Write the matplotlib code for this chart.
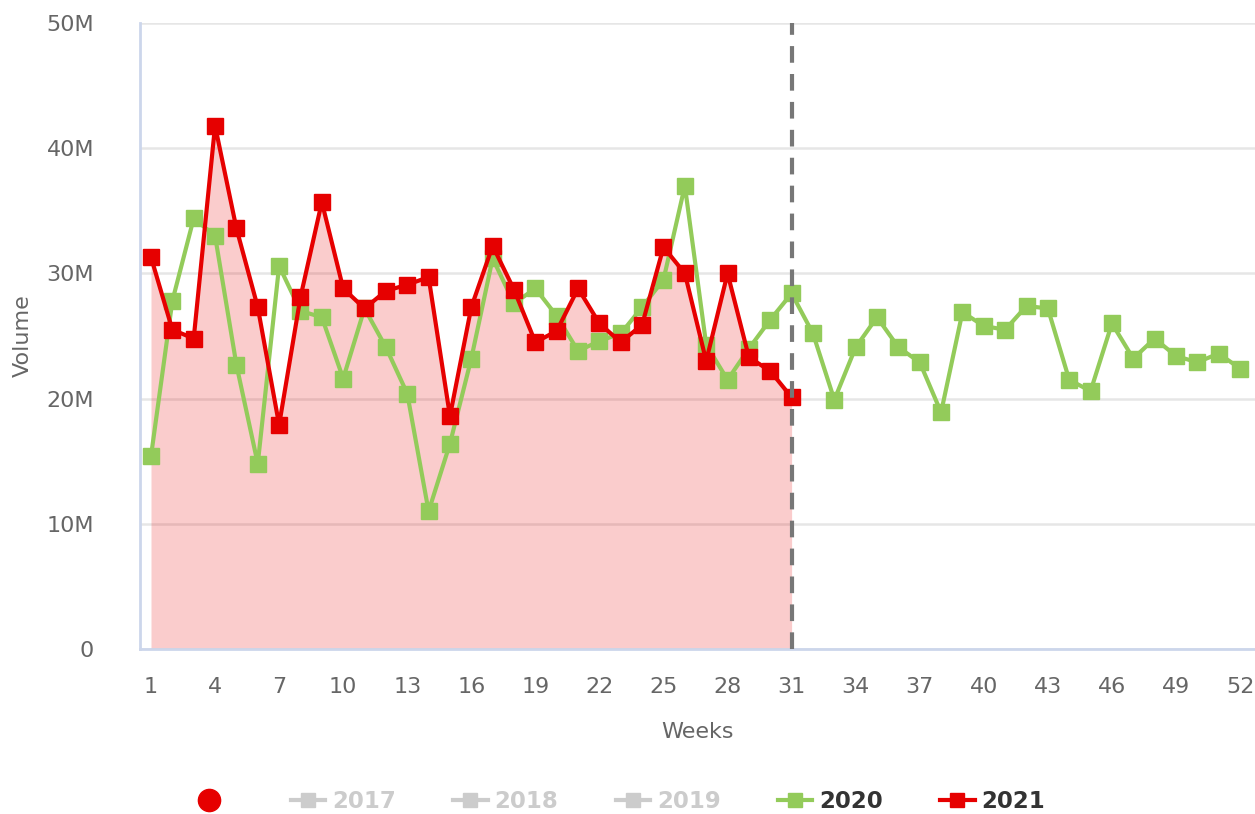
import matplotlib
matplotlib.use("Agg")
import matplotlib.pyplot as plt
from matplotlib.lines import Line2D
from matplotlib.ticker import FuncFormatter

weeks_2021 = list(range(1, 32))
vol_2021 = [31.3, 25.5, 24.8, 41.8, 33.6, 27.3, 17.9, 28.1, 35.7, 28.8,
            27.2, 28.6, 29.1, 29.7, 18.6, 27.3, 32.2, 28.7, 24.5, 25.4,
            28.8, 26.0, 24.5, 25.9, 32.1, 30.0, 23.0, 30.0, 23.3, 22.2, 20.1]

weeks_2020 = list(range(1, 53))
vol_2020 = [15.4, 27.8, 34.4, 33.0, 22.7, 14.8, 30.6, 27.0, 26.5, 21.6,
            27.2, 24.1, 20.4, 11.0, 16.4, 23.2, 31.2, 27.6, 28.8, 26.6,
            23.8, 24.6, 25.2, 27.3, 29.5, 37.0, 24.3, 21.5, 24.0, 26.3,
            28.4, 25.2, 19.9, 24.1, 26.5, 24.1, 22.9, 18.9, 26.9, 25.8,
            25.5, 27.4, 27.2, 21.5, 20.6, 26.0, 23.2, 24.8, 23.4, 22.9,
            23.6, 22.4]

current_week = 31
x_ticks = list(range(1, 53, 3))
legend_years = ["2017", "2018", "2019", "2020", "2021"]

RED = "#e60000"
GREEN = "#93cb5a"
GREY = "#cccccc"
AXIS = "#ccd6eb"
TXT = "#666666"

plt.rcParams["font.family"] = "DejaVu Sans"

fig = plt.figure(figsize=(12.55, 8.14), dpi=100)
ax = fig.add_axes([140 / 1255, 1 - 649 / 814, 1 - 140 / 1255, 626 / 814])

ax.fill_between(weeks_2021, [v * 1e6 for v in vol_2021], 0, color=RED, alpha=0.2,
                linewidth=0, zorder=2)
ax.plot(weeks_2020, [v * 1e6 for v in vol_2020], color=GREEN, lw=3, marker="s",
        ms=11.5, zorder=3)
ax.plot(weeks_2021, [v * 1e6 for v in vol_2021], color=RED, lw=3, marker="s",
        ms=11.5, zorder=4)
ax.axvline(current_week, color="#777777", lw=3, ls=(0, (4, 2.7)), zorder=5)

ax.set_xlim(0.485, 52.7)
ax.set_ylim(0, 50e6)
ax.set_yticks([0, 10e6, 20e6, 30e6, 40e6, 50e6])
ax.yaxis.set_major_formatter(FuncFormatter(lambda v, p: "0" if v == 0 else f"{v / 1e6:.0f}M"))
ax.set_xticks(x_ticks)
ax.grid(axis="y", color="#e6e6e6", lw=1.8, zorder=0)
ax.set_axisbelow(True)
ax.tick_params(length=0, labelsize=16, labelcolor=TXT)
ax.tick_params(axis="y", pad=33)
ax.tick_params(axis="x", pad=20)
for s in ("top", "right"):
    ax.spines[s].set_visible(False)
for s in ("left", "bottom"):
    ax.spines[s].set_color(AXIS)
    ax.spines[s].set_linewidth(2)
ax.set_xlabel("Weeks", fontsize=16, color=TXT, labelpad=18)
ax.set_ylabel("Volume", fontsize=16, color=TXT, labelpad=10)

handles = [Line2D([], [], ls="none", marker="o", ms=16, color=RED)]
labels = [""]
for yr in legend_years:
    c = {"2020": GREEN, "2021": RED}.get(yr, GREY)
    handles.append(Line2D([], [], color=c, lw=3, marker="s", ms=10))
    labels.append(yr)
leg = fig.legend(handles, labels, loc="center", bbox_to_anchor=(0.493, 0.015), ncol=6,
                 frameon=False, fontsize=16.5, handlelength=1.5, columnspacing=2.5,
                 handletextpad=0.3)
for t in leg.get_texts():
    t.set_fontweight("bold")
    t.set_color("#333333" if t.get_text() in ("2020", "2021") else GREY)

fig.savefig("out.png", dpi=100)
